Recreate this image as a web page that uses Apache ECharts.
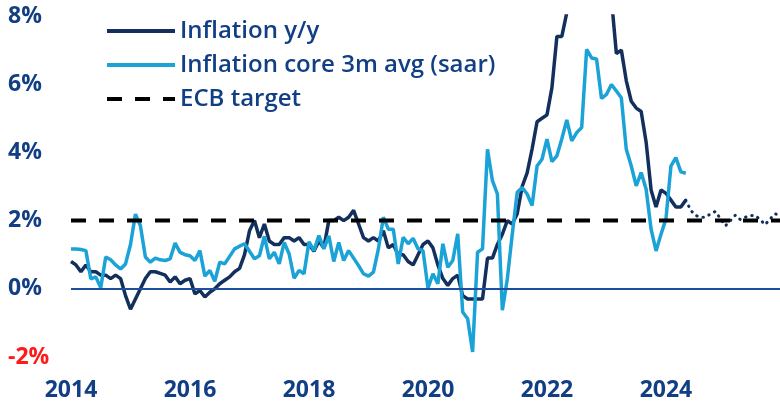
<!DOCTYPE html>
<html>
<head>
<meta charset="utf-8">
<script src="https://cdn.jsdelivr.net/npm/echarts@6/dist/echarts.min.js"></script>
<style>
html, body { margin: 0; padding: 0; background: #fff; }
#chart { width: 780px; height: 406px; }
</style>
</head>
<body>
<div id="chart"></div>
<script>
// monthly axis, Jan 2014 .. Dec 2025
const firstYear = 2014
const lastYear = 2025
const yearLabels = ['2014', '2016', '2018', '2020', '2022', '2024']
const yTicks = [-2, 0, 2, 4, 6, 8]

// headline HICP y/y, Jan 2014 .. May 2024
const inflationYY = [
  0.8, 0.7, 0.5, 0.7, 0.5, 0.5, 0.4, 0.4, 0.3, 0.4, 0.3, -0.2,
  -0.6, -0.3, 0.0, 0.3, 0.5, 0.5, 0.45, 0.4, 0.2, 0.35, 0.15, 0.25,
  0.3, -0.15, -0.05, -0.24, -0.1, 0.0, 0.15, 0.25, 0.35, 0.5, 0.6, 1.0,
  1.7, 2.0, 1.5, 1.9, 1.4, 1.3, 1.3, 1.5, 1.5, 1.4, 1.5, 1.3,
  1.3, 1.1, 1.4, 1.2, 2.0, 2.0, 2.1, 2.0, 2.1, 2.3, 1.9, 1.5,
  1.4, 1.5, 1.4, 1.7, 1.2, 1.3, 1.0, 1.0, 0.8, 0.7, 1.0, 1.3,
  1.4, 1.2, 0.7, 0.3, 0.1, 0.3, 0.4, -0.2, -0.3, -0.3, -0.3, -0.3,
  0.9, 0.9, 1.3, 1.6, 2.0, 1.9, 2.2, 3.0, 3.4, 4.1, 4.9, 5.0,
  5.1, 5.9, 7.4, 7.4, 8.1, 8.6, 8.9, 9.1, 9.9, 10.6, 10.1, 9.2,
  8.6, 8.5, 6.9, 7.0, 6.1, 5.5, 5.3, 5.2, 4.3, 2.9, 2.4, 2.9,
  2.8, 2.6, 2.4, 2.4, 2.6
]

// core inflation, 3m avg saar, Jan 2014 .. May 2024
const coreSaar = [
  1.17, 1.17, 1.15, 1.12, 0.29, 0.35, 0.03, 0.93, 0.85, 0.7, 0.58, 0.73,
  1.3, 2.19, 1.85, 0.93, 0.78, 0.9, 0.85, 0.83, 0.88, 1.34, 1.07, 1.0,
  0.97, 0.83, 1.12, 0.37, 0.54, 0.22, 0.78, 0.73, 0.95, 1.17, 1.25, 1.32,
  1.1, 0.88, 0.97, 1.54, 0.88, 1.07, 0.73, 1.36, 1.02, 0.31, 0.54, 0.44,
  1.38, 1.12, 1.56, 1.17, 1.55, 0.8, 1.36, 0.83, 1.12, 0.9, 0.68, 0.44,
  0.37, 0.49, 1.17, 2.1, 1.75, 1.75, 0.73, 1.51, 1.32, 1.48, 1.17, 1.12,
  0.02, 0.44, 0.15, 1.32, 0.63, 0.83, 1.61, -0.68, -0.88, -1.85, 1.07, 1.17,
  4.09, 3.17, 2.78, -0.63, 0.29, 1.6, 2.83, 2.97, 2.78, 2.44, 3.6, 3.8,
  4.39, 3.73, 3.9, 4.4, 4.95, 4.34, 4.58, 4.73, 7.02, 6.77, 6.74, 5.58,
  5.7, 5.99, 5.8, 5.6, 4.09, 3.6, 3.02, 3.41, 2.92, 1.75, 1.11, 1.6,
  2.05, 3.6, 3.85, 3.43, 3.39
]

// projection y/y, May 2024 .. Dec 2025
const projectionYY = [
  2.6, 2.3, 2.15, 2.1, 2.1, 2.2, 2.27, 2.05, 1.85, 2.0,
  2.16, 2.03, 2.1, 2.15, 2.15, 2.03, 1.88, 2.05, 2.2, 2.15
]

const ecbTarget = 2

const months = []
for (let y = firstYear; y <= lastYear; y++) {
  for (let m = 1; m <= 12; m++) {
    months.push(y + '-' + (m < 10 ? '0' + m : m))
  }
}
const projStart = inflationYY.length - 1
const projection = months.map((d, i) => (i >= projStart && i - projStart < projectionYY.length) ? projectionYY[i - projStart] : null)
const target = months.map(() => ecbTarget)

const navy = '#13305c'
const sky = '#1ba2d6'
const textNavy = '#123f84'
const font = 'Open Sans'

const chart = echarts.init(document.getElementById('chart'))
chart.setOption({
  animation: false,
  grid: {
    left: 71,
    top: 16,
    width: 709,
    height: 341
  },
  legend: {
    orient: 'vertical',
    left: 100,
    top: 13,
    itemWidth: 68,
    itemHeight: 14,
    itemGap: 8,
    itemStyle: { opacity: 0 },
    lineStyle: { width: 4 },
    data: ['Inflation y/y', 'Inflation core 3m avg (saar)', 'ECB target'],
    textStyle: {
      color: textNavy,
      fontFamily: font,
      fontSize: 24,
      fontWeight: 600,
      lineHeight: 26
    }
  },
  xAxis: {
    type: 'category',
    data: months,
    boundaryGap: false,
    axisLine: { show: false },
    axisTick: { show: false },
    splitLine: { show: false },
    axisLabel: {
      interval: function (index, value) {
        return yearLabels.indexOf(value.slice(0, 4)) >= 0 && value.slice(5) === '01'
      },
      formatter: function (value) {
        return value.slice(0, 4)
      },
      margin: 22,
      color: textNavy,
      fontFamily: font,
      fontSize: 23,
      fontWeight: 'bold'
    }
  },
  yAxis: {
    type: 'value',
    min: yTicks[0],
    max: yTicks[yTicks.length - 1],
    interval: 2,
    axisLine: { show: false },
    axisTick: { show: false },
    splitLine: { show: false },
    axisLabel: {
      align: 'left',
      margin: 63,
      formatter: '{value}%',
      color: function (value) {
        return Number(value) < 0 ? '#ff1a1a' : textNavy
      },
      fontFamily: font,
      fontSize: 23,
      fontWeight: 'bold'
    }
  },
  series: [
    {
      name: 'Inflation y/y',
      type: 'line',
      data: inflationYY,
      symbol: 'none',
      z: 3,
      lineStyle: { color: navy, width: 3.5 },
      itemStyle: { color: navy },
      markLine: {
        silent: true,
        symbol: 'none',
        label: { show: false },
        lineStyle: { color: '#1f4f9c', width: 2, type: 'solid' },
        data: [{ yAxis: 0 }]
      }
    },
    {
      name: 'projection',
      type: 'line',
      data: projection,
      symbol: 'none',
      z: 3,
      lineStyle: { color: navy, width: 3, type: [0.5, 6], cap: 'round' }
    },
    {
      name: 'Inflation core 3m avg (saar)',
      type: 'line',
      data: coreSaar,
      symbol: 'none',
      z: 4,
      lineStyle: { color: sky, width: 3.5 },
      itemStyle: { color: sky }
    },
    {
      name: 'ECB target',
      type: 'line',
      data: target,
      symbol: 'none',
      z: 5,
      lineStyle: { color: '#000', width: 4, type: [15, 13] },
      itemStyle: { color: '#000' }
    }
  ]
})
</script>
</body>
</html>
